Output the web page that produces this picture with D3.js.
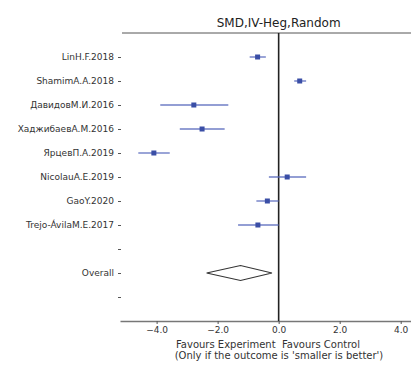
<!DOCTYPE html>
<html>
<head>
<meta charset="utf-8">
<script src="https://cdn.jsdelivr.net/npm/d3@7"></script>
<style>
  body { margin: 0; background: #fff; }
  svg { display: block; font-family: "DejaVu Sans", sans-serif; }
</style>
</head>
<body>
<svg id="chart"></svg>
<script>
// study labels (empty strings are the blank rows)
const studies = ["LinH.F.2018", "ShamimA.A.2018", "ДавидовМ.И.2016", "ХаджибаевА.М.2016",
  "ЯрцевП.А.2019", "NicolauA.E.2019", "GaoY.2020", "Trejo-ÁvilaM.E.2017", "", "Overall", ""];
const smd   = [-0.69, 0.69, -2.78, -2.51, -4.09, 0.28, -0.37, -0.68];
const lower = [-0.95, 0.51, -3.88, -3.24, -4.60, -0.32, -0.73, -1.33];
const upper = [-0.42, 0.90, -1.65, -1.77, -3.57, 0.90, 0.00, 0.00];
const overall = { est: -1.25, lo: -2.36, hi: -0.22 };
const xTicks = [-4, -2, 0, 2, 4];

const width = 411, height = 365;
const svg = d3.select("#chart").attr("width", width).attr("height", height);

const plotTop = 33, plotBottom = 321;
const xScale = d3.scaleLinear().domain([-5.2, 4.6]).range([120, 419]);
const yScale = d3.scaleLinear().domain([0, studies.length - 1]).range([57, 297]);

// title
svg.append("text")
  .attr("x", xScale(0)).attr("y", 27)
  .attr("text-anchor", "middle")
  .attr("font-size", 12).attr("fill", "#222")
  .text("SMD,IV-Heg,Random");

// top spine
svg.append("line")
  .attr("x1", 122).attr("x2", width).attr("y1", plotTop).attr("y2", plotTop)
  .attr("stroke", "#555").attr("stroke-width", 1);

// y axis labels (no spine)
const yAxis = svg.append("g")
  .attr("transform", "translate(121,0)")
  .call(d3.axisLeft(yScale).tickValues(d3.range(studies.length))
    .tickFormat(i => studies[i]).tickSize(3).tickPadding(4));
yAxis.select(".domain").remove();
yAxis.selectAll("text").attr("font-size", 9).attr("fill", "#333")
  .attr("font-family", "DejaVu Sans, sans-serif");
yAxis.selectAll("line").attr("stroke", "#555");

// x axis
const xAxis = svg.append("g")
  .attr("transform", "translate(0," + plotBottom + ")")
  .call(d3.axisBottom(xScale).tickValues(xTicks).tickFormat(d3.format(".1f"))
    .tickSize(3).tickSizeOuter(0).tickPadding(3));
xAxis.select(".domain").attr("stroke", "#777").attr("stroke-width", 1.5);
xAxis.selectAll("line").attr("stroke", "#555");
xAxis.selectAll("text").attr("font-size", 9).attr("fill", "#333")
  .attr("font-family", "DejaVu Sans, sans-serif");

// x label
svg.append("text")
  .attr("x", 268).attr("y", 348)
  .attr("text-anchor", "middle").attr("font-size", 10).attr("fill", "#333")
  .style("white-space", "pre")
  .text("Favours Experiment  Favours Control");
svg.append("text")
  .attr("x", 279).attr("y", 359)
  .attr("text-anchor", "middle").attr("font-size", 10).attr("fill", "#333")
  .text("(Only if the outcome is 'smaller is better')");

// zero line
svg.append("line")
  .attr("x1", xScale(0)).attr("x2", xScale(0))
  .attr("y1", plotTop).attr("y2", plotBottom)
  .attr("stroke", "#222").attr("stroke-width", 1.6);

// confidence intervals
svg.append("g").selectAll("line")
  .data(smd)
  .join("line")
  .attr("x1", (d, i) => xScale(lower[i]))
  .attr("x2", (d, i) => xScale(upper[i]))
  .attr("y1", (d, i) => yScale(i))
  .attr("y2", (d, i) => yScale(i))
  .attr("stroke", "#5566bb").attr("stroke-opacity", 0.85).attr("stroke-width", 1.4);

// point estimates
const sq = 5;
svg.append("g").selectAll("rect")
  .data(smd)
  .join("rect")
  .attr("x", d => xScale(d) - sq / 2)
  .attr("y", (d, i) => yScale(i) - sq / 2)
  .attr("width", sq).attr("height", sq)
  .attr("fill", "#3a4ea6");

// overall diamond
const oy = yScale(studies.indexOf("Overall"));
const dh = 7.5;
svg.append("path")
  .attr("d", d3.line()([
    [xScale(overall.lo), oy], [xScale(overall.est), oy - dh],
    [xScale(overall.hi), oy], [xScale(overall.est), oy + dh]
  ]) + "Z")
  .attr("fill", "none").attr("stroke", "#333").attr("stroke-width", 1.2);
</script>
</body>
</html>
